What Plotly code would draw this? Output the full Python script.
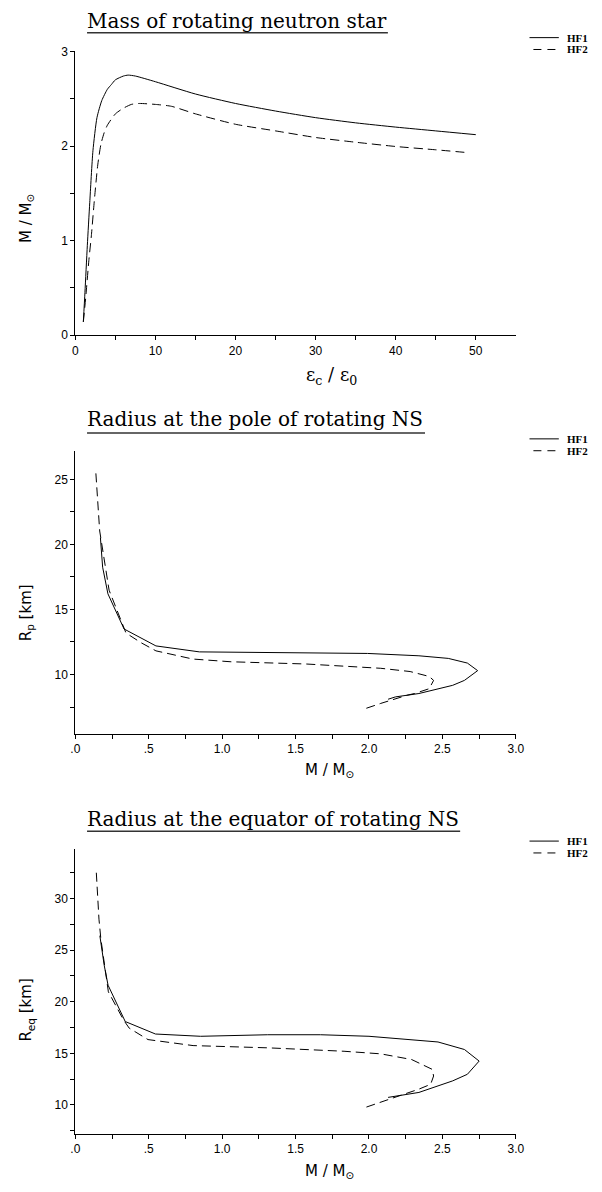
import plotly.graph_objects as go

W, H = 602, 1192

# ---------------- data ----------------
# Panel 1: mass vs central energy density
eps_hf1 = [1.0, 1.2, 1.5, 1.8, 2.2, 2.7, 3.3, 4.0, 4.5, 5.0, 6.0, 6.6, 7.5, 10, 15, 20, 25, 30, 35, 40, 45, 50]
m_hf1 = [0.14, 0.45, 0.95, 1.40, 1.95, 2.30, 2.48, 2.60, 2.65, 2.70, 2.74, 2.75, 2.74, 2.68, 2.55, 2.45, 2.37, 2.30, 2.245, 2.20, 2.16, 2.12]
eps_hf2 = [1.0, 1.3, 1.7, 2.0, 2.4, 2.8, 3.2, 3.6, 4.0, 5.0, 6.0, 7.0, 8.0, 10, 12, 15, 20, 25, 30, 35, 40, 45, 49]
m_hf2 = [0.14, 0.40, 0.80, 1.05, 1.45, 1.80, 2.02, 2.14, 2.22, 2.34, 2.40, 2.44, 2.45, 2.44, 2.42, 2.34, 2.23, 2.16, 2.09, 2.04, 1.995, 1.96, 1.93]

# Panel 2: polar radius vs mass
mp_hf1 = [0.171, 0.186, 0.222, 0.332, 0.549, 0.845, 1.99, 2.34, 2.54, 2.67, 2.74, 2.65, 2.57, 2.34, 2.18, 2.13]
rp_hf1 = [20.5, 18.25, 16.2, 13.5, 12.2, 11.74, 11.62, 11.44, 11.24, 10.88, 10.3, 9.55, 9.17, 8.54, 8.28, 8.1]
mp_hf2 = [0.14, 0.155, 0.166, 0.23, 0.294, 0.345, 0.447, 0.549, 0.80, 1.06, 1.57, 2.08, 2.28, 2.41, 2.44, 2.41, 2.31, 2.26, 2.08, 1.98]
rp_hf2 = [25.46, 23.0, 21.03, 16.48, 14.7, 13.19, 12.45, 11.82, 11.19, 10.98, 10.81, 10.48, 10.23, 9.85, 9.55, 8.91, 8.54, 8.41, 7.78, 7.4]

# Panel 3: equatorial radius vs mass
me_hf1 = [0.167, 0.197, 0.223, 0.34, 0.546, 0.853, 1.31, 1.67, 2.0, 2.47, 2.65, 2.75, 2.67, 2.57, 2.34, 2.13]
re_hf1 = [26.4, 23.5, 21.6, 18.08, 16.87, 16.65, 16.8, 16.8, 16.65, 16.1, 15.37, 14.25, 12.97, 12.33, 11.21, 10.73]
me_hf2 = [0.143, 0.15, 0.161, 0.174, 0.225, 0.328, 0.367, 0.495, 0.802, 1.315, 1.83, 2.08, 2.29, 2.43, 2.44, 2.42, 2.34, 2.21, 2.08, 1.98]
re_hf2 = [32.5, 30.5, 28.0, 26.07, 20.96, 18.24, 17.44, 16.33, 15.75, 15.53, 15.2, 14.95, 14.4, 13.45, 12.8, 12.0, 11.53, 10.9, 10.26, 9.78]

series_names = ["HF1", "HF2"]

# tick labels (major) and unlabeled minor ticks
x1_ticks = [0, 10, 20, 30, 40, 50]
x1_text = ["0", "10", "20", "30", "40", "50"]
x1_minor = [5, 15, 25, 35, 45]
y1_ticks = [0, 1, 2, 3]
y1_text = ["0", "1", "2", "3"]
y1_minor = [0.5, 1.5, 2.5]
xm_ticks = [0, 0.5, 1.0, 1.5, 2.0, 2.5, 3.0]
xm_text = [".0", ".5", "1.0", "1.5", "2.0", "2.5", "3.0"]
xm_minor = [0.25, 0.75, 1.25, 1.75, 2.25, 2.75]
y2_ticks = [10, 15, 20, 25]
y2_text = ["10", "15", "20", "25"]
y2_minor = [7.5, 12.5, 17.5, 22.5]
y3_ticks = [10, 15, 20, 25, 30]
y3_text = ["10", "15", "20", "25", "30"]
y3_minor = [7.5, 12.5, 17.5, 22.5, 27.5, 32.5]

titles = ["Mass of rotating neutron star",
          "Radius at the pole of rotating NS",
          "Radius at the equator of rotating NS"]

# ---------------- figure ----------------
def px(x):
    return x / W

def py(y):
    return 1 - y / H

fig = go.Figure()

solid = dict(color="black", width=1)
dashed = dict(color="black", width=1, dash="9px,5px")

fig.add_trace(go.Scatter(x=eps_hf1, y=m_hf1, mode="lines", line=dict(shape="spline", smoothing=0.6, **solid),
                         name=series_names[0], xaxis="x", yaxis="y", showlegend=False))
fig.add_trace(go.Scatter(x=eps_hf2, y=m_hf2, mode="lines", line=dict(shape="spline", smoothing=0.6, **dashed),
                         name=series_names[1], xaxis="x", yaxis="y", showlegend=False))
fig.add_trace(go.Scatter(x=mp_hf1, y=rp_hf1, mode="lines", line=solid,
                         name=series_names[0], xaxis="x2", yaxis="y2", showlegend=False))
fig.add_trace(go.Scatter(x=mp_hf2, y=rp_hf2, mode="lines", line=dashed,
                         name=series_names[1], xaxis="x2", yaxis="y2", showlegend=False))
fig.add_trace(go.Scatter(x=me_hf1, y=re_hf1, mode="lines", line=solid,
                         name=series_names[0], xaxis="x3", yaxis="y3", showlegend=False))
fig.add_trace(go.Scatter(x=me_hf2, y=re_hf2, mode="lines", line=dashed,
                         name=series_names[1], xaxis="x3", yaxis="y3", showlegend=False))

tickfont = dict(family="Liberation Sans", size=12, color="black")
common = dict(showline=True, linecolor="black", linewidth=1, showgrid=False, zeroline=False,
              ticks="outside", ticklen=4, tickwidth=1, tickcolor="black", tickfont=tickfont,
              tickmode="array", fixedrange=True)

xdom = [px(72), px(523)]
panels = [
    dict(ytop=45, ybot=332, xr=[0, 55], yr=[0, 3], xt=(x1_ticks, x1_text, x1_minor), yt=(y1_ticks, y1_text, y1_minor)),
    dict(ytop=449, ybot=735.5, xr=[0, 3], yr=[5.44, 27.2], xt=(xm_ticks, xm_text, xm_minor), yt=(y2_ticks, y2_text, y2_minor)),
    dict(ytop=852, ybot=1140, xr=[0, 3], yr=[7.22, 34.8], xt=(xm_ticks, xm_text, xm_minor), yt=(y3_ticks, y3_text, y3_minor)),
]

def minor(vals):
    return dict(tickmode="array", tickvals=vals, ticks="outside", ticklen=4, tickwidth=1,
                tickcolor="black", showgrid=False)

layout_axes = {}
for i, p in enumerate(panels, start=1):
    sx = "" if i == 1 else str(i)
    layout_axes["xaxis" + sx] = dict(domain=xdom, range=p["xr"], anchor="y" + sx,
                                     tickvals=p["xt"][0], ticktext=p["xt"][1], minor=minor(p["xt"][2]), **common)
    layout_axes["yaxis" + sx] = dict(domain=[py(p["ybot"]), py(p["ytop"])], range=p["yr"], anchor="x" + sx,
                                     tickvals=p["yt"][0], ticktext=p["yt"][1], minor=minor(p["yt"][2]), **common)

fig.update_layout(**layout_axes)

annotations = []
shapes = []

def ann(text, x, y, font, xanchor="center", yanchor="middle", angle=0):
    annotations.append(dict(text=text, x=px(x), y=py(y), xref="paper", yref="paper",
                            xanchor=xanchor, yanchor=yanchor, showarrow=False, font=font,
                            textangle=angle))

title_font = dict(family="DejaVu Serif", size=20, color="black")
title_pos = [(82, 14, 392, 26), (82, 417, 430, 431), (82, 822, 466, 834)]
for t, (tx, ty, ux, uy) in zip(titles, title_pos):
    ann(t, tx, ty, title_font, xanchor="left")
    shapes.append(dict(type="line", xref="paper", yref="paper", x0=px(84), x1=px(ux), y0=py(uy), y1=py(uy),
                       line=dict(color="#333333", width=1.5)))

lab_font = dict(family="DejaVu Sans", size=15, color="black")
eps_font = dict(family="DejaVu Serif", size=18, color="black")
ann("ε<sub>c</sub> / ε<sub>0</sub>", 334, 373, eps_font)
ann("M / M<sub>⊙</sub>", 22, 214, lab_font, angle=-90)
ann("M / M<sub>⊙</sub>", 332, 773, lab_font)
ann("R<sub>p</sub> [km]", 22, 613, lab_font, angle=-90)
ann("M / M<sub>⊙</sub>", 332, 1178, lab_font)
ann("R<sub>eq</sub> [km]", 22, 1015, lab_font, angle=-90)

# legends (one per panel)
leg_font = dict(family="Liberation Serif", size=11, color="black")
for ly in [35, 441, 848]:
    y1, y2 = ly - 4, ly + 8
    shapes.append(dict(type="line", xref="paper", yref="paper", x0=px(537), x1=px(567), y0=py(y1), y1=py(y1),
                       line=dict(color="black", width=1)))
    shapes.append(dict(type="line", xref="paper", yref="paper", x0=px(541), x1=px(567), y0=py(y2), y1=py(y2),
                       line=dict(color="black", width=1, dash="8px,6px")))
    ann("<b>" + series_names[0] + "</b>", 573, y1, leg_font, xanchor="left")
    ann("<b>" + series_names[1] + "</b>", 573, y2, leg_font, xanchor="left")

fig.update_layout(width=W, height=H, margin=dict(l=0, r=0, t=0, b=0),
                  paper_bgcolor="white", plot_bgcolor="white", showlegend=False,
                  annotations=annotations, shapes=shapes)

fig.write_html("out.html")
